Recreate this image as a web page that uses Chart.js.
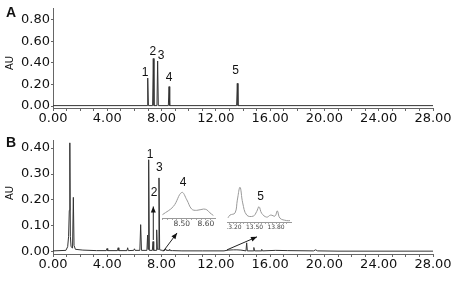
<!DOCTYPE html>
<html>
<head>
<meta charset="utf-8">
<script src="https://cdn.jsdelivr.net/npm/chart.js@4.4.0/dist/chart.umd.min.js"></script>
<style>
  html, body { margin: 0; padding: 0; background: #fff; }
  #wrap { position: relative; width: 459px; height: 281px; overflow: hidden; }
  canvas { position: absolute; }
</style>
</head>
<body>
<div id="wrap">
  <canvas id="panelA" width="459" height="130" style="left:0;top:0"></canvas>
  <canvas id="panelB" width="459" height="151" style="left:0;top:130px"></canvas>
  <canvas id="inset4" width="54" height="58" style="left:162px;top:172px"></canvas>
  <canvas id="inset5" width="65" height="54" style="left:227px;top:180px"></canvas>
</div>
<script>
// A: standard mixture
const timeA = [0, 6.93, 6.98, 7.03, 7.34, 7.39, 7.44, 7.66, 7.71, 7.76, 8.50, 8.55, 8.60, 13.53, 13.58, 13.63, 28];
const auA   = [0.004, 0.004, 0.259, 0.004, 0.004, 0.44, 0.004, 0.004, 0.417, 0.004, 0.004, 0.18, 0.004, 0.004, 0.21, 0.004, 0.004];
const peakNamesA = ['1', '2', '3', '4', '5'];
const peakLabelTimeA = [6.78, 7.35, 7.96, 8.55, 13.46];
const peakLabelAuA = [0.305, 0.499, 0.469, 0.259, 0.326];

// B: sample
const timeB = [0, 0.95, 1.08, 1.15, 1.20, 1.24, 1.28, 1.33, 1.44, 1.50,
  1.55, 1.65, 2.2, 3.2, 3.93, 3.98, 4.03, 4.75, 4.80, 4.85,
  5.45, 5.50, 5.55, 5.95, 6.00, 6.05, 6.40, 6.46, 6.52, 6.92,
  6.97, 7.00, 7.05, 7.10, 7.32, 7.37, 7.42, 7.59, 7.64, 7.69,
  7.76, 7.81, 7.86, 8.05, 8.25, 8.30, 8.35, 8.55, 8.60, 8.65,
  8.80, 9.5, 11.0, 12.6, 12.9, 13.3, 13.55, 13.85, 14.22, 14.27,
  14.32, 14.75, 14.80, 14.85, 15.33, 15.38, 15.43, 16.4, 17.3, 19.2,
  19.35, 19.5, 21.0, 28];
const auB = [0.004, 0.006, 0.02, 0.06, 0.16, 0.42, 0.06, 0.02, 0.015, 0.21,
  0.025, 0.01, 0.007, 0.005, 0.005, 0.013, 0.005, 0.005, 0.016, 0.005,
  0.005, 0.016, 0.005, 0.006, 0.012, 0.006, 0.006, 0.105, 0.006, 0.006,
  0.065, 0.01, 0.355, 0.006, 0.006, 0.04, 0.006, 0.006, 0.085, 0.01,
  0.01, 0.285, 0.008, 0.006, 0.006, 0.012, 0.006, 0.006, 0.01, 0.005,
  0.005, 0.004, 0.004, 0.004, 0.007, 0.008, 0.008, 0.007, 0.004, 0.035,
  0.004, 0.004, 0.017, 0.004, 0.004, 0.01, 0.004, 0.006, 0.005, 0.004,
  0.008, 0.004, 0.003, 0.003];
const peakNamesB = ['1', '2', '3'];
const peakLabelTimeB = [7.15, 7.44, 7.83];
const peakLabelAuB = [0.373, 0.23, 0.326];
// arrows: [t0, au0, t1, au1], head at the second point
const arrowsB = [[7.39, 0.046, 7.39, 0.175], [8.12, 0.002, 9.14, 0.073], [12.82, 0.008, 15.03, 0.058]];

// insets (relative intensity, %)
const timeInset4 = [8.42, 8.465, 8.50, 8.521, 8.541, 8.562, 8.590, 8.604, 8.617, 8.631];
const relInset4  = [13, 45, 100, 71, 35, 30, 35, 32, 20, 10];
const timeInset5 = [13.13, 13.158, 13.228, 13.26, 13.298, 13.335, 13.391, 13.483, 13.53, 13.563,
  13.6, 13.67, 13.726, 13.786, 13.818, 13.855, 13.949, 13.995];
const relInset5  = [12, 20, 26, 63, 100, 55, 20, 17, 30, 44,
  25, 14, 20, 17, 32, 11, 4, 4];

const xTickLabels = [0, 4, 8, 12, 16, 20, 24, 28];
const yTicksA = [0, 0.2, 0.4, 0.6, 0.8];
const yTicksB = [0, 0.1, 0.2, 0.3, 0.4];
const inset4Labels = [8.5, 8.6];
const inset5Labels = [13.2, 13.5, 13.8];

const AXIS = '#666';
const TICK_FONT = { family: 'DejaVu Sans', size: 13 };

function range(a, b, step) {
  const out = [];
  for (let v = a; v <= b + 1e-9; v += step) out.push(Math.round(v * 1000) / 1000);
  return out;
}
const has = (list, v) => list.some(l => Math.abs(l - v) < 1e-6);
const pts = (ts, vs) => ts.map((t, i) => ({ x: t, y: vs[i] }));

function drawArrow(ctx, x0, y0, x1, y1) {
  const a = Math.atan2(y1 - y0, x1 - x0);
  ctx.beginPath(); ctx.moveTo(x0, y0); ctx.lineTo(x1, y1); ctx.stroke();
  ctx.beginPath();
  ctx.moveTo(x1, y1);
  ctx.lineTo(x1 - 6 * Math.cos(a) + 2.5 * Math.sin(a), y1 - 6 * Math.sin(a) - 2.5 * Math.cos(a));
  ctx.lineTo(x1 - 6 * Math.cos(a) - 2.5 * Math.sin(a), y1 - 6 * Math.sin(a) + 2.5 * Math.cos(a));
  ctx.closePath(); ctx.fill();
}

function overlay(letter, names, lt, lv, arrows) {
  return {
    id: 'overlay',
    afterDatasetsDraw(chart) {
      const { ctx, scales: { x, y } } = chart;
      ctx.save();
      ctx.fillStyle = '#111';
      ctx.strokeStyle = '#222';
      ctx.lineWidth = 1;
      ctx.textAlign = 'center';
      ctx.textBaseline = 'middle';
      ctx.font = '12px "Liberation Sans"';
      names.forEach((s, i) => ctx.fillText(s, x.getPixelForValue(lt[i]), y.getPixelForValue(lv[i])));
      arrows.forEach(a => drawArrow(ctx, x.getPixelForValue(a[0]), y.getPixelForValue(a[1]),
        x.getPixelForValue(a[2]), y.getPixelForValue(a[3])));
      // panel letter
      ctx.font = 'bold 14px "Liberation Sans"';
      ctx.fillText(letter, 11, 13);
      // axis title
      ctx.font = '10px "Liberation Sans"';
      ctx.translate(10, 63);
      ctx.rotate(-Math.PI / 2);
      ctx.fillText('AU', 0, 0);
      ctx.restore();
    }
  };
}

function mainChart(id, ts, vs, yMin, yMax, yTicks, padTop, xHeight, plugin) {
  return new Chart(document.getElementById(id), {
    type: 'line',
    data: { datasets: [{ data: pts(ts, vs), borderColor: '#333', borderWidth: 1, pointRadius: 0, tension: 0 }] },
    options: {
      responsive: false,
      animation: false,
      layout: { padding: { left: 0, right: 26, top: padTop, bottom: 0 } },
      plugins: { legend: { display: false }, tooltip: { enabled: false } },
      scales: {
        x: {
          type: 'linear', min: 0, max: 28,
          border: { color: AXIS },
          grid: { drawOnChartArea: false, drawTicks: true, tickLength: 3, color: AXIS },
          afterBuildTicks: s => { s.ticks = range(0, 28, 1).map(v => ({ value: v })); },
          afterFit: s => { s.height = xHeight; },
          ticks: {
            autoSkip: false, maxRotation: 0, minRotation: 0, padding: 0,
            color: '#111', font: TICK_FONT,
            callback: v => has(xTickLabels, v) ? v.toFixed(2) : ''
          }
        },
        y: {
          min: yMin, max: yMax,
          border: { color: AXIS },
          grid: { drawOnChartArea: false, drawTicks: true, tickLength: 2, color: AXIS },
          afterBuildTicks: s => { s.ticks = yTicks.map(v => ({ value: v })); },
          afterFit: s => { s.width = 53; },
          ticks: { padding: 1, color: '#111', font: TICK_FONT, callback: v => v.toFixed(2) }
        }
      }
    },
    plugins: [plugin]
  });
}

function insetChart(id, ts, vs, xMin, xMax, yMax, step, labels, fontSize, name, nameT, nameV) {
  return new Chart(document.getElementById(id), {
    type: 'line',
    data: { datasets: [{ data: pts(ts, vs), borderColor: '#999', borderWidth: 1, pointRadius: 0, tension: 0.4 }] },
    options: {
      responsive: false,
      animation: false,
      layout: { padding: 0 },
      plugins: { legend: { display: false }, tooltip: { enabled: false } },
      scales: {
        x: {
          type: 'linear', min: xMin, max: xMax,
          border: { color: '#999' },
          grid: { drawOnChartArea: false, drawTicks: true, tickLength: 2, color: '#aaa' },
          afterBuildTicks: s => { s.ticks = range(Math.ceil(xMin / step) * step, xMax - step / 2, step).map(v => ({ value: v })); },
          afterFit: s => { s.height = 12; },
          ticks: {
            autoSkip: false, maxRotation: 0, minRotation: 0, padding: 0,
            color: '#444', font: { family: 'DejaVu Sans', size: fontSize },
            callback: v => has(labels, v) ? v.toFixed(2) : ''
          }
        },
        y: { display: false, min: 0, max: yMax }
      }
    },
    plugins: [{
      id: 'insetName',
      afterDatasetsDraw(chart) {
        const { ctx, scales: { x, y } } = chart;
        ctx.save();
        ctx.fillStyle = '#111';
        ctx.font = '12px "Liberation Sans"';
        ctx.textAlign = 'center';
        ctx.textBaseline = 'middle';
        ctx.fillText(name, x.getPixelForValue(nameT), y.getPixelForValue(nameV));
        ctx.restore();
      }
    }]
  });
}

mainChart('panelA', timeA, auA, -0.018, 0.9, yTicksA, 2, 22,
  overlay('A', peakNamesA, peakLabelTimeA, peakLabelAuA, []));
mainChart('panelB', timeB, auB, -0.008, 0.431, yTicksB, 10, 27,
  overlay('B', peakNamesB, peakLabelTimeB, peakLabelAuB, arrowsB));
insetChart('inset4', timeInset4, relInset4, 8.418, 8.642, 180, 0.02, inset4Labels, 7.5, '4', 8.505, 140);
insetChart('inset5', timeInset5, relInset5, 13.116, 14.023, 121, 0.05, inset5Labels, 6, '5', 13.586, 73);
</script>
</body>
</html>
